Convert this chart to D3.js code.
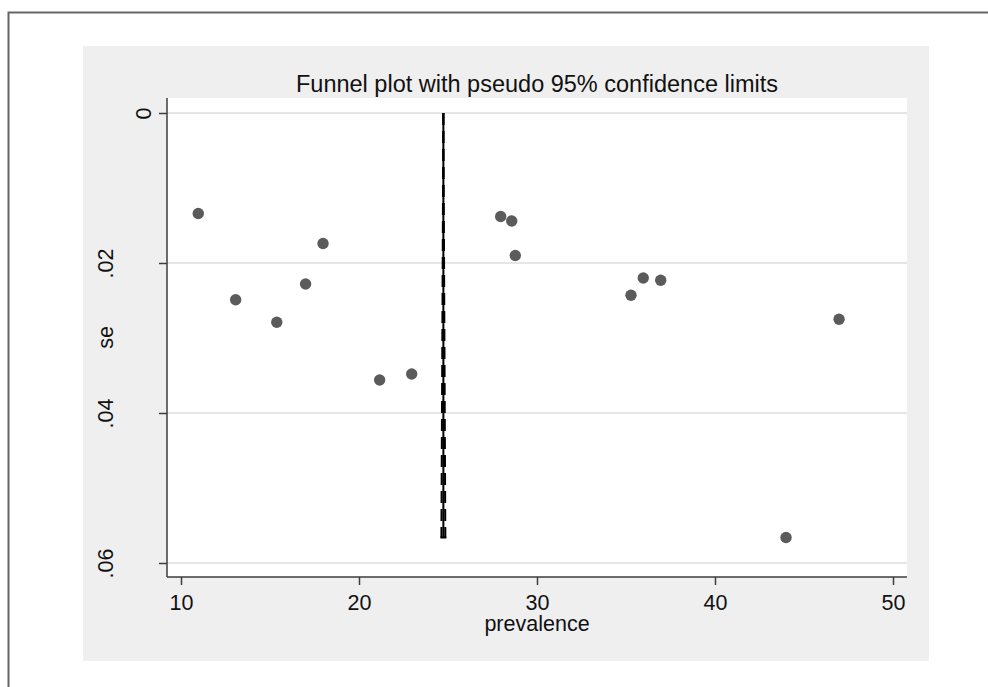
<!DOCTYPE html>
<meta charset="utf-8">
<title>Funnel plot</title>
<style>
  html, body { margin: 0; padding: 0; background: #fff; }
  svg { display: block; }
  text { font-family: 'Liberation Sans', Arial, Helvetica, sans-serif; fill: #111; }
  .grid line { stroke: #e6e6e6; stroke-width: 2px; }
  .axis path, .axis line { stroke: #3c3c3c; stroke-width: 1.5px; }
</style>
<body>
<script src="https://d3js.org/d3.v7.min.js"></script>
<script>

// study estimates
var prevalence = [10.97, 13.07, 15.38, 17.0, 17.98, 21.16, 22.96, 27.96, 28.58, 28.78, 35.28, 35.97, 36.95, 43.99, 46.97];
var se         = [0.0134, 0.0249, 0.0279, 0.0228, 0.0174, 0.0356, 0.0348, 0.0138, 0.0144, 0.0190, 0.0243, 0.0220, 0.0223, 0.0566, 0.0275];

// pooled estimate and pseudo 95% limits (endpoints: [prevalence, se])
var pooled     = [[24.74, 0], [24.74, 0.0566]];
var lowerLimit = [[24.74, 0], [24.63, 0.0566]];
var upperLimit = [[24.74, 0], [24.85, 0.0566]];

// ticks
var xTicks = [10, 20, 30, 40, 50];
var yTicks = [0, 0.02, 0.04, 0.06];
var yTickLabels = ["0", ".02", ".04", ".06"];

var title = "Funnel plot with pseudo 95% confidence limits";
var xTitle = "prevalence";
var yTitle = "se";

var W = 988, H = 687;
var plot = {left: 167, right: 907, top: 98, bottom: 577};

var svg = d3.select("body").append("svg")
    .attr("width", W)
    .attr("height", H);

// outer frame (runs off the page on right and bottom)
svg.append("rect")
    .attr("x", 8.5).attr("y", 12.5)
    .attr("width", 1200).attr("height", 900)
    .attr("fill", "#fff")
    .attr("stroke", "#666")
    .attr("stroke-width", 2);

// graph region
svg.append("rect")
    .attr("x", 83).attr("y", 46)
    .attr("width", 846).attr("height", 615)
    .attr("fill", "#efefef");

// plot region
svg.append("rect")
    .attr("x", plot.left).attr("y", plot.top)
    .attr("width", plot.right - plot.left).attr("height", plot.bottom - plot.top)
    .attr("fill", "#fff");

var x = d3.scaleLinear().domain([10, 50]).range([181, 893]);
var y = d3.scaleLinear().domain([0, 0.06]).range([113, 563]);

// horizontal grid
svg.append("g").attr("class", "grid")
  .selectAll("line").data(yTicks).enter().append("line")
    .attr("x1", plot.left).attr("x2", plot.right)
    .attr("y1", function(d) { return y(d); })
    .attr("y2", function(d) { return y(d); });

// x axis
var xAxis = svg.append("g").attr("class", "axis")
    .attr("transform", "translate(0," + plot.bottom + ")")
    .call(d3.axisBottom(x).tickValues(xTicks).tickSize(8).tickSizeOuter(0));
xAxis.select(".domain").attr("d", "M" + plot.left + ",0H" + plot.right);
xAxis.selectAll("text")
    .attr("y", 33).attr("dy", 0)
    .style("font-size", "21.5px").style("fill", "#111");

// y axis
var yAxis = svg.append("g").attr("class", "axis")
    .attr("transform", "translate(" + plot.left + ",0)")
    .call(d3.axisLeft(y).tickValues(yTicks).tickSize(8).tickSizeOuter(0)
      .tickFormat(function(d, i) { return yTickLabels[i]; }));
yAxis.select(".domain").attr("d", "M0," + plot.top + "V" + plot.bottom);
yAxis.selectAll("text")
    .attr("transform", "rotate(-90)")
    .attr("text-anchor", "middle")
    .attr("x", 0).attr("dy", 0)
    .attr("y", function(d, i) { return i === 0 ? -16 : -54; })
    .style("font-size", "21.5px").style("fill", "#111");

// pooled line and pseudo confidence limits
var line = d3.line()
    .x(function(d) { return x(d[0]); })
    .y(function(d) { return y(d[1]); });

svg.append("path")
    .datum(pooled)
    .attr("d", line)
    .attr("fill", "none")
    .attr("stroke", "#000")
    .attr("stroke-width", 2);

[lowerLimit, upperLimit].forEach(function(lim) {
  svg.append("path")
      .datum(lim)
      .attr("d", line)
      .attr("fill", "none")
      .attr("stroke", "#000")
      .attr("stroke-width", 2)
      .attr("stroke-dasharray", "12,6");
});

// bottom cap where the limits end
svg.append("line")
    .attr("x1", x(lowerLimit[1][0]) - 1).attr("x2", x(upperLimit[1][0]) + 1)
    .attr("y1", y(lowerLimit[1][1])).attr("y2", y(upperLimit[1][1]))
    .attr("stroke", "#000").attr("stroke-width", 2);

// study points
svg.append("g")
  .selectAll("circle").data(prevalence).enter().append("circle")
    .attr("cx", function(d) { return x(d); })
    .attr("cy", function(d, i) { return y(se[i]); })
    .attr("r", 5.7)
    .attr("fill", "#5b5b5b");

// titles
svg.append("text")
    .attr("x", (plot.left + plot.right) / 2).attr("y", 91.5)
    .attr("text-anchor", "middle")
    .style("font-size", "23.5px")
    .text(title);

svg.append("text")
    .attr("x", (plot.left + plot.right) / 2).attr("y", 631)
    .attr("text-anchor", "middle")
    .style("font-size", "21.5px")
    .text(xTitle);

svg.append("text")
    .attr("transform", "translate(113," + (plot.top + plot.bottom) / 2 + ") rotate(-90)")
    .attr("text-anchor", "middle")
    .style("font-size", "21.5px")
    .text(yTitle);

</script>
</body>
